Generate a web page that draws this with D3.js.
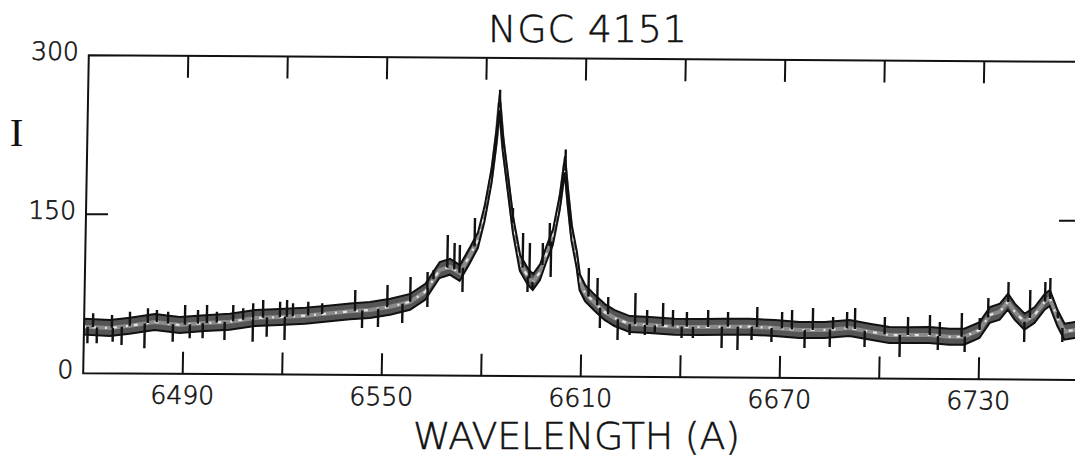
<!DOCTYPE html>
<html>
<head>
<meta charset="utf-8">
<script src="https://cdn.jsdelivr.net/npm/d3@7/dist/d3.min.js"></script>
<style>
  html, body { margin: 0; padding: 0; background: #fff; }
  svg { display: block; }
  text { font-family: "DejaVu Sans", sans-serif; font-weight: 200; fill: #111; stroke: #111; }
</style>
</head>
<body>
<div id="chart"></div>
<script>
// band centre of the spectrum
var wavelength = [6460, 6467.8, 6473.8, 6481.3, 6488.8, 6496.4, 6503.9, 6511.5, 6519, 6526.6,
  6534.1, 6540.1, 6546.1, 6552.2, 6558.2, 6562.7, 6566.9, 6570.0, 6573.0, 6576.0,
  6578.3, 6580.2, 6582.1, 6583.4, 6584.1, 6585.3, 6587.1, 6588.8, 6591.1, 6593.6,
  6595.1, 6597.2, 6598.9, 6600.9, 6602.8, 6604.1, 6605.2, 6606.5, 6608.2, 6609.2,
  6610.9, 6613.9, 6616.9, 6619.9, 6624.5, 6630.5, 6638, 6645.6, 6653.1, 6660.6,
  6668.2, 6675.7, 6683.3, 6690.8, 6696.8, 6702.8, 6708.8, 6714.9, 6720.9, 6725.4,
  6730, 6733, 6736, 6738.4, 6740.5, 6743.5, 6746.5, 6749.5, 6751, 6753.4, 6755.6, 6758.6, 6761];
var intensity = [43.8, 42.7, 45, 48.7, 46, 48, 49.4, 53.1, 54.2, 55.6,
  58, 60, 61.4, 64.6, 69.4, 79, 99.5, 102.7, 96.9, 113.9,
  128, 153.6, 189.5, 227.3, 258, 219.8, 180.2, 142.5, 106.7, 93.5,
  88.9, 98.3, 114.4, 131.4, 164.5, 200, 168.4, 135.4, 110, 89,
  78.7, 69.4, 61, 55.4, 49.8, 49, 47.6, 47.5, 47.9, 48.1,
  47, 45.3, 45.5, 47.5, 44.2, 41.1, 41.2, 41.4, 39.9, 40,
  46.4, 60.7, 63.9, 73.3, 64, 54.5, 61, 73.6, 77, 58.3, 45.4, 47.1, 46];

// noise spikes (upward and downward)
var spikeWl = [6462.7, 6468.4, 6473.8, 6479.2, 6481.9, 6485.3, 6490.4, 6494.3, 6497, 6500,
  6504.9, 6507.9, 6510.9, 6513.9, 6519, 6521.1, 6522.9, 6527.5, 6531.7,
  6461.1, 6463.9, 6468.7, 6471.4, 6478.3, 6486.8, 6491.9, 6495.8, 6502.4, 6510.9, 6515.1, 6520.5,
  6541.6, 6551.3, 6558.2, 6563.3, 6565.1, 6569.2, 6571.3, 6572.9, 6577.3, 6584.2,
  6586.7, 6588.7, 6591.9, 6594.0, 6597.9, 6599.9, 6604.3,
  6543.8, 6548.6, 6555.9, 6563.4, 6573.9, 6593.5, 6595, 6600.4, 6608.9,
  6611.9, 6614.6, 6617.9, 6626.1, 6629.7, 6634.5, 6637.5, 6641.7, 6648.1, 6654.1,
  6662.9, 6670.4, 6673.4, 6679.7,
  6615.5, 6620.9, 6624.5, 6629.1, 6632.1, 6640.2, 6643.6, 6652.3, 6657.1, 6661.3, 6667.3, 6677.3,
  6685.8, 6690, 6692.4, 6701.4, 6708.4, 6715, 6718, 6724.6, 6730, 6732.5,
  6738.5, 6745.1, 6749.6, 6751.1, 6753.5,
  6684.9, 6695.4, 6706, 6717.5, 6725.6, 6743.5, 6755];
var spikeVal = [56.5, 55, 58.2, 61.6, 60, 58.5, 64.9, 60.3, 65.1, 58.8,
  65.2, 62.2, 67, 70.1, 68.6, 70.3, 67.2, 68.8, 67.4,
  28.2, 28.2, 29.8, 26.8, 23.8, 30.2, 33.5, 33.6, 32.2, 30.7, 35.5, 32.5,
  80.2, 85.1, 92.8, 97.6, 99.5, 132.6, 125.1, 123.3, 148.9, 270,
  189.6, 158.5, 135, 125.6, 125.7, 144.6, 214,
  44.4, 45.4, 49.3, 64.6, 79, 79.4, 81.3, 93.7, 97.6,
  102.4, 93, 75.2, 79.1, 63.2, 69.9, 63.3, 61.5, 63.6, 61.8,
  66.7, 62.1, 64.1, 66.1,
  45.9, 34.7, 39.5, 39.6, 42.5, 37, 37, 27.8, 26, 35.5, 33.8, 28.3,
  57.8, 62.6, 66.4, 58.1, 58.2, 60.3, 53.7, 62.4, 57.8, 76.7,
  91.9, 84.5, 92.1, 95.9, 63.9,
  29.4, 29.7, 20.5, 27.3, 25.6, 35.4, 35.6];

var xTicks = [6490, 6520, 6550, 6580, 6610, 6640, 6670, 6700, 6730];
var xLabels = [6490, 6550, 6610, 6670, 6730];
var yLabels = [0, 150, 300];

(function() {
var width = 1075, height = 457;
var pLeft = 86, pRight = 1081, pTop = 58.5, pBottom = 376.5;
var tickLen = 22;

var x = d3.scaleLinear().domain([6460, 6760]).range([pLeft, pRight]);
var y = d3.scaleLinear().domain([0, 300]).range([pBottom, pTop]);

var svg = d3.select("#chart").append("svg")
    .attr("width", width)
    .attr("height", height);

// the scan is slightly skewed, so the whole plot frame is too
var g = svg.append("g")
    .attr("transform", "matrix(1,0.0068,-0.0176,1,3.82,-3.94)");

g.append("clipPath").attr("id", "plotclip")
  .append("rect")
    .attr("x", pLeft).attr("y", pTop)
    .attr("width", pRight - pLeft).attr("height", pBottom - pTop);

var spec = wavelength.map(function(w, i) { return {w: w, v: intensity[i]}; });
var bis = d3.bisector(function(d) { return d.w; }).left;
function centreAt(w) {
  var i = Math.max(1, Math.min(spec.length - 1, bis(spec, w)));
  var a = spec[i - 1], b = spec[i];
  return a.v + (b.v - a.v) * (w - a.w) / (b.w - a.w);
}

var plot = g.append("g").attr("clip-path", "url(#plotclip)");

var band = d3.area()
    .x(function(d) { return x(d.w); })
    .y0(function(d) { return y(d.v - 7.5); })
    .y1(function(d) { return y(d.v + 7.5); });

plot.append("path")
    .datum(spec)
    .attr("d", band)
    .attr("fill", "#555")
    .attr("stroke", "none");

var mid = d3.line().x(function(d) { return x(d.w); }).y(function(d) { return y(d.v); });
plot.append("path")
    .datum(spec)
    .attr("d", mid)
    .attr("fill", "none")
    .attr("stroke", "#8a8a8a")
    .attr("stroke-width", 4);
plot.append("path")
    .datum(spec)
    .attr("d", mid)
    .attr("fill", "none")
    .attr("stroke", "#e6e6e6")
    .attr("stroke-width", 2.2)
    .attr("stroke-dasharray", "2 6 4 9");

// band outline on top, so the steep flanks stay dark
plot.append("path")
    .datum(spec)
    .attr("d", band)
    .attr("fill", "none")
    .attr("stroke", "#111")
    .attr("stroke-width", 2);

plot.selectAll(".spike")
    .data(spikeWl)
  .enter().append("line")
    .attr("class", "spike")
    .attr("x1", function(w) { return x(w); })
    .attr("x2", function(w) { return x(w); })
    .attr("y1", function(w) { return y(centreAt(w)); })
    .attr("y2", function(w, i) { return y(spikeVal[i]); })
    .attr("stroke", "#111")
    .attr("stroke-width", 2.4);

// frame
g.append("path")
    .attr("d", "M" + pRight + "," + pTop + "H" + pLeft + "V" + pBottom + "H" + pRight)
    .attr("fill", "none")
    .attr("stroke", "#111")
    .attr("stroke-width", 2);

// x ticks, bottom and top
g.selectAll(".xtb").data(xTicks).enter().append("line")
    .attr("x1", function(d) { return x(d); }).attr("x2", function(d) { return x(d); })
    .attr("y1", pBottom).attr("y2", pBottom - tickLen)
    .attr("stroke", "#111").attr("stroke-width", 2);
g.selectAll(".xtt").data(xTicks).enter().append("line")
    .attr("x1", function(d) { return x(d); }).attr("x2", function(d) { return x(d); })
    .attr("y1", pTop).attr("y2", pTop + tickLen)
    .attr("stroke", "#111").attr("stroke-width", 2);

// y tick at 150, left and right
g.append("line")
    .attr("x1", pLeft).attr("x2", pLeft + tickLen)
    .attr("y1", y(150)).attr("y2", y(150))
    .attr("stroke", "#111").attr("stroke-width", 2);
g.append("line")
    .attr("x1", pRight).attr("x2", pRight - tickLen)
    .attr("y1", y(150)).attr("y2", y(150))
    .attr("stroke", "#111").attr("stroke-width", 2);

g.selectAll(".xl").data(xLabels).enter().append("text")
    .attr("x", function(d) { return x(d); })
    .attr("y", 406.5)
    .attr("text-anchor", "middle")
    .attr("font-size", 25)
    .attr("stroke-width", 0.6)
    .text(function(d) { return d; });

g.selectAll(".yl").data(yLabels).enter().append("text")
    .attr("x", 76)
    .attr("y", function(d) { return y(d) + 5; })
    .attr("text-anchor", "end")
    .attr("font-size", 25)
    .attr("stroke-width", 0.6)
    .text(function(d) { return d; });

svg.append("text")
    .attr("x", 488).attr("y", 42)
    .attr("font-size", 38)
    .attr("stroke-width", 0.5)
    .attr("textLength", 199).attr("lengthAdjust", "spacing")
    .text("NGC  4151");

svg.append("text")
    .attr("x", 413).attr("y", 449)
    .attr("font-size", 38)
    .attr("stroke-width", 0.5)
    .attr("textLength", 327).attr("lengthAdjust", "spacing")
    .text("WAVELENGTH (A)");

svg.append("text")
    .attr("x", 16.5).attr("y", 146)
    .attr("text-anchor", "middle")
    .style("font-family", "'Liberation Serif', serif")
    .style("font-weight", 400)
    .attr("stroke-width", 0)
    .attr("font-size", 41)
    .text("I");
})();
</script>
</body>
</html>
